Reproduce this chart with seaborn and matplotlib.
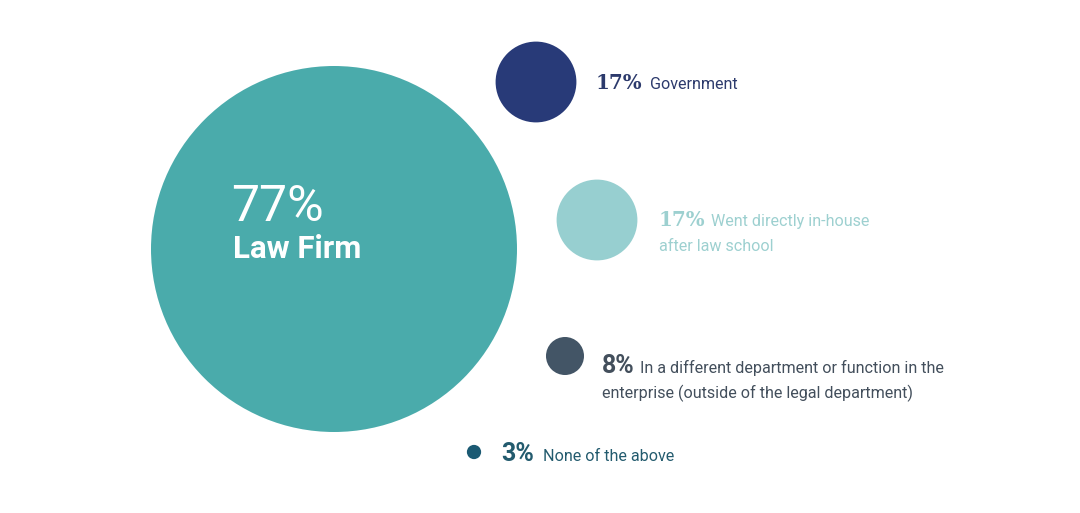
import matplotlib
matplotlib.use("Agg")
import matplotlib.pyplot as plt
import seaborn as sns
import pandas as pd

# ---- data ----
categories = ["Law Firm", "Government", "Went directly in-house\nafter law school",
              "In a different department or function in the\nenterprise (outside of the legal department)",
              "None of the above"]
values = [77, 17, 17, 8, 3]
pct_labels = ["77%", "17%", "17%", "8%", "3%"]

# ---- layout / style ----
W, H, DPI = 1080, 513, 100
cx = [334, 536, 597, 565, 474]
cy = [249, 82, 220, 356, 452]
px_per_pct = 183 / 77.0
bubble_colors = ["#4aabab", "#283a78", "#97cfd0", "#435566", "#1b5a73"]
text_colors = ["#ffffff", "#2c3a6c", "#9dd0d0", "#434f5c", "#235b6e"]

sns.set_theme(style="white")
plt.rcParams["font.family"] = ["Roboto", "DejaVu Sans"]

fig = plt.figure(figsize=(W / DPI, H / DPI), dpi=DPI)
ax = fig.add_axes([0, 0, 1, 1])

df = pd.DataFrame({"cat": categories, "value": values, "x": cx, "y": cy})
pt_per_px = 72.0 / DPI
size_map = {c: (2 * v * px_per_pct * pt_per_px) ** 2 for c, v in zip(categories, values)}
color_map = dict(zip(categories, bubble_colors))

sns.scatterplot(data=df, x="x", y="y", hue="cat", size="cat", palette=color_map,
                sizes=size_map, linewidth=0, legend=False, ax=ax, alpha=1)

ax.set_xlim(0, W)
ax.set_ylim(H, 0)
ax.set_axis_off()

# big bubble text
ax.text(231, 221, pct_labels[0], color="white", fontsize=36, fontweight="normal",
        va="baseline", ha="left")
ax.text(233, 258, categories[0], color="white", fontsize=22.5, fontweight="bold",
        va="baseline", ha="left")

# side labels: (pct x, label x, baseline y, line spacing)
pct_x = [None, 596, 659, 602, 501]
lab_x = [None, 650, 711, 640, 543]
base_y = [None, 89, 226, 373, 461]
line_gap = 25
for i in range(1, 5):
    pct_font = dict(family=["DejaVu Serif"], fontweight="bold", fontsize=14.3) if i in (1, 2) \
        else dict(fontweight="bold", fontsize=18)
    ax.text(pct_x[i], base_y[i], pct_labels[i], color=text_colors[i], va="baseline",
            ha="left", **pct_font)
    lines = categories[i].split("\n")
    ax.text(lab_x[i], base_y[i], lines[0], color=text_colors[i], fontsize=11.6,
            va="baseline", ha="left")
    for j, ln in enumerate(lines[1:], start=1):
        ax.text(pct_x[i], base_y[i] + j * line_gap, ln, color=text_colors[i], fontsize=11.6,
                va="baseline", ha="left")

fig.savefig("out.png", dpi=DPI, facecolor="white")
